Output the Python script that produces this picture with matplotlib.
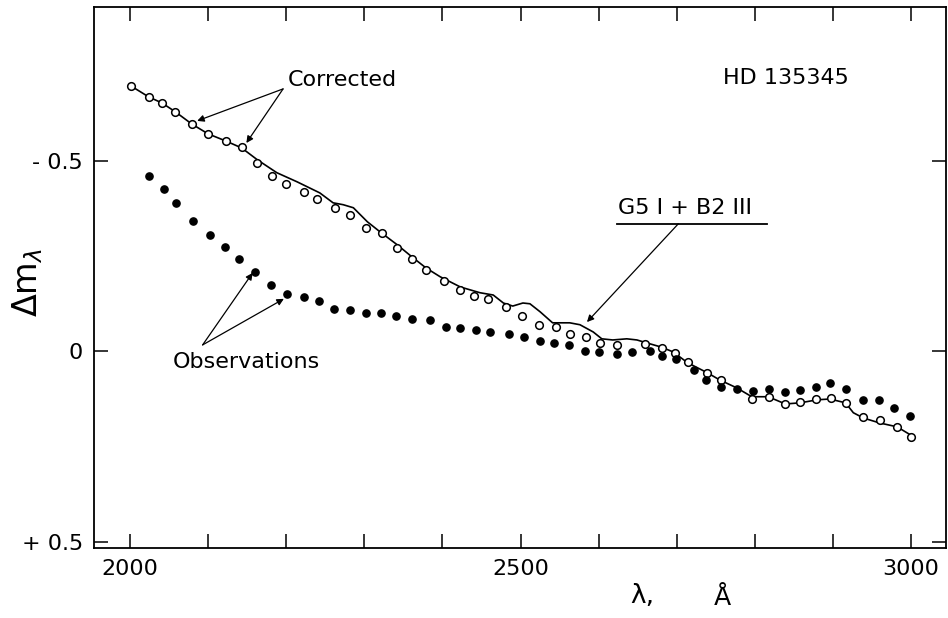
import matplotlib
matplotlib.use('Agg')
import matplotlib.pyplot as plt

# corrected points (open circles)
wl_corr = [2001, 2024, 2041, 2058, 2079, 2100, 2123, 2143, 2163, 2182, 2200,
           2223, 2239, 2262, 2282, 2302, 2323, 2342, 2361, 2379, 2402, 2423,
           2440, 2458, 2481, 2502, 2524, 2545, 2563, 2584, 2602, 2624, 2659,
           2681, 2698, 2714, 2739, 2757, 2796, 2818, 2839, 2858, 2878, 2898,
           2917, 2939, 2960, 2982, 3000]
dm_corr = [-0.697, -0.668, -0.652, -0.629, -0.597, -0.571, -0.552, -0.537,
           -0.495, -0.461, -0.440, -0.419, -0.400, -0.377, -0.358, -0.324,
           -0.311, -0.272, -0.243, -0.214, -0.185, -0.161, -0.146, -0.138,
           -0.117, -0.093, -0.070, -0.064, -0.046, -0.038, -0.022, -0.017,
           -0.020, -0.009, 0.004, 0.028, 0.056, 0.075, 0.125, 0.119, 0.138,
           0.133, 0.125, 0.122, 0.135, 0.172, 0.180, 0.198, 0.224]

# observations (filled dots)
wl_obs = [2024, 2044, 2059, 2081, 2102, 2122, 2139, 2160, 2181, 2201, 2223,
          2242, 2261, 2282, 2302, 2321, 2340, 2361, 2384, 2405, 2423, 2443,
          2461, 2485, 2504, 2525, 2543, 2562, 2583, 2601, 2623, 2643, 2666,
          2681, 2699, 2722, 2737, 2757, 2777, 2798, 2818, 2839, 2858, 2878,
          2896, 2917, 2939, 2959, 2978, 2998]
dm_obs = [-0.461, -0.427, -0.390, -0.343, -0.306, -0.274, -0.243, -0.209,
          -0.175, -0.151, -0.143, -0.133, -0.112, -0.109, -0.101, -0.101,
          -0.093, -0.085, -0.083, -0.064, -0.062, -0.056, -0.051, -0.046,
          -0.038, -0.028, -0.022, -0.017, -0.001, 0.001, 0.007, 0.001,
          -0.001, 0.012, 0.020, 0.049, 0.075, 0.093, 0.098, 0.104, 0.098,
          0.106, 0.101, 0.093, 0.083, 0.098, 0.127, 0.127, 0.148, 0.169]

# model G5 I + B2 III (solid line)
wl_mod = [2001, 2024, 2041, 2058, 2079, 2100, 2123, 2143, 2163, 2188, 2214,
          2243, 2260, 2273, 2286, 2304, 2320, 2342, 2361, 2379, 2397, 2423,
          2448, 2465, 2478, 2490, 2503, 2512, 2525, 2541, 2553, 2563, 2576,
          2593, 2604, 2618, 2636, 2649, 2662, 2679, 2695, 2714, 2739, 2755,
          2777, 2796, 2817, 2839, 2858, 2880, 2896, 2916, 2926, 2939, 2960,
          2982, 2999]
dm_mod = [-0.697, -0.668, -0.652, -0.629, -0.597, -0.571, -0.552, -0.534,
          -0.503, -0.469, -0.445, -0.416, -0.390, -0.385, -0.377, -0.340,
          -0.314, -0.280, -0.248, -0.219, -0.196, -0.169, -0.154, -0.148,
          -0.127, -0.119, -0.127, -0.125, -0.104, -0.075, -0.075, -0.075,
          -0.070, -0.051, -0.033, -0.030, -0.033, -0.030, -0.022, -0.012,
          0.001, 0.030, 0.056, 0.075, 0.096, 0.119, 0.119, 0.138, 0.135,
          0.127, 0.125, 0.135, 0.161, 0.175, 0.188, 0.198, 0.219]

plt.rcParams['font.family'] = 'DejaVu Sans'

fig = plt.figure(figsize=(9.48, 6.18), dpi=100)
ax = fig.add_axes([0.0992, 0.1133, 0.899, 0.8754])

ax.plot(wl_mod, dm_mod, color='black', lw=1.2, zorder=2)
ax.plot(wl_corr, dm_corr, 'o', ms=5.5, mfc='white', mec='black', mew=1.1, zorder=3)
ax.plot(wl_obs, dm_obs, 'o', ms=5.2, color='black', zorder=3)

ax.set_xlim(1954, 3045)
ax.set_ylim(0.516, -0.904)

ax.set_xticks([2000, 2500, 3000])
ax.set_xticks(range(2000, 3001, 100), minor=True)
ax.set_yticks([-0.5, 0, 0.5])
ax.set_yticklabels(['- 0.5', '0', '+ 0.5'])
ax.tick_params(which='both', direction='in', length=10, width=1.1,
               top=True, right=True, labelsize=16, pad=8)
for sp in ax.spines.values():
    sp.set_linewidth(1.3)

arrow = dict(arrowstyle='-|>', color='black', lw=0.9, mutation_scale=10,
             shrinkA=0, shrinkB=0)

ax.text(2202, -0.713, 'Corrected', fontsize=16, ha='left', va='center')
for tgt in [(2086, -0.605), (2149, -0.547)]:
    ax.annotate('', xy=tgt, xytext=(2196, -0.689), arrowprops=arrow)

ax.text(2759, -0.718, 'HD 135345', fontsize=16, ha='left', va='center')

ax.text(2055, 0.028, 'Observations', fontsize=16, ha='left', va='center')
for tgt in [(2157, -0.206), (2197, -0.138)]:
    ax.annotate('', xy=tgt, xytext=(2093, -0.017), arrowprops=arrow)

ax.text(2625, -0.377, 'G5 I + B2 III', fontsize=16, ha='left', va='center')
ax.plot([2624, 2816], [-0.335, -0.335], color='black', lw=1.3)
ax.annotate('', xy=(2585, -0.077), xytext=(2702, -0.335), arrowprops=arrow)

fig.text(28 / 948, 1 - 282 / 618, r'$\Delta\mathrm{m}_{\lambda}$', fontsize=24,
         rotation=90, ha='center', va='center')
fig.text(630 / 948, 1 - 596 / 618, '\u03bb,', fontsize=19, ha='left', va='center')
fig.text(722 / 948, 1 - 598 / 618, '\u00c5', fontsize=18, ha='center', va='center')

fig.savefig('out.png', dpi=100)
